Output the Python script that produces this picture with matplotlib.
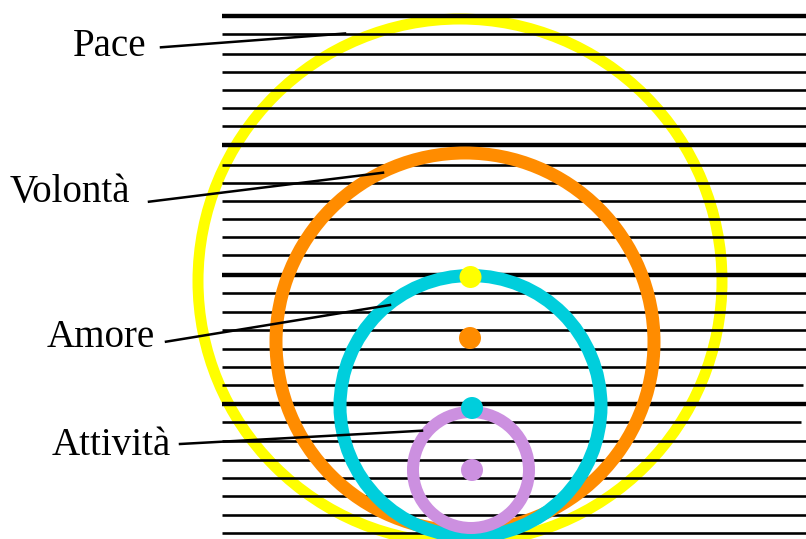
import matplotlib.pyplot as plt
from matplotlib.patches import Circle

plt.rcParams['font.family'] = ['Liberation Serif', 'DejaVu Serif']

W, H = 806, 539

# horizontal rules (y in pixels from top) and which ones are heavy
line_y = [15.7, 34.3, 53.7, 71.7, 89.7, 107.7, 125.7, 145.3, 164.7, 182.7,
          200.7, 218.7, 236.7, 254.7, 274.7, 293.3, 311.7, 329.7, 349.3,
          366.7, 385.0, 403.7, 422.3, 441.0, 459.7, 477.7, 495.7, 515.0, 533.3]
heavy_idx = [0, 7, 14, 21]
line_x0 = 222
line_x1 = [806] * len(line_y)
line_x1[20] = 803
line_x1[22] = 801

# rings: name, centre, radius, colour, ring width
ring_names = ["Pace", "Volontà", "Amore", "Attività"]
ring_cx = [460, 465, 470.5, 471]
ring_cy = [281, 342, 406, 470]
ring_r = [262, 189, 130.5, 58]
ring_col = ["#ffff00", "#ff8c00", "#00cedc", "#cc90e0"]
ring_w = [11, 13, 13, 12]

# small dots stacked on the axis
dot_x = [470.5, 470, 472, 472]
dot_y = [277, 338, 408, 470]
dot_col = ["#ffff00", "#ff8c00", "#00cedc", "#cc90e0"]

# labels and leader lines
label_x = [73, 10, 47, 52]
label_y = [56, 202, 347, 455]
lead_start = [(161, 47.3), (149, 201.7), (166, 341.7), (180, 444)]
lead_end = [(345, 33.5), (383, 172.7), (390, 305), (422, 430.7)]

fig = plt.figure(figsize=(W / 100, H / 100), dpi=100)
ax = fig.add_axes([0, 0, 1, 1])
ax.set_xlim(0, W)
ax.set_ylim(H, 0)
ax.set_aspect('equal')
ax.axis('off')

px = 0.72  # points per pixel at 100 dpi

for i, y in enumerate(line_y):
    lw = 4.4 if i in heavy_idx else 2.6
    ax.plot([line_x0, line_x1[i]], [y, y], color='black', lw=lw * px,
            solid_capstyle='butt', zorder=2)

for i in range(len(ring_names)):
    z = 1 if i == 0 else 3
    c = Circle((ring_cx[i], ring_cy[i]), ring_r[i], fill=False,
               edgecolor=ring_col[i], linewidth=ring_w[i] * px, zorder=z)
    ax.add_patch(c)

for i in range(len(dot_x)):
    c = Circle((dot_x[i], dot_y[i]), 11, facecolor=dot_col[i],
               edgecolor='none', zorder=4)
    ax.add_patch(c)

for i, name in enumerate(ring_names):
    ax.text(label_x[i], label_y[i], name, fontsize=39 * px, ha='left',
            va='baseline', color='black')
    (x0, y0), (x1, y1) = lead_start[i], lead_end[i]
    ax.plot([x0, x1], [y0, y1], color='black', lw=2.5 * px, zorder=5)

fig.savefig('out.png', dpi=100)
